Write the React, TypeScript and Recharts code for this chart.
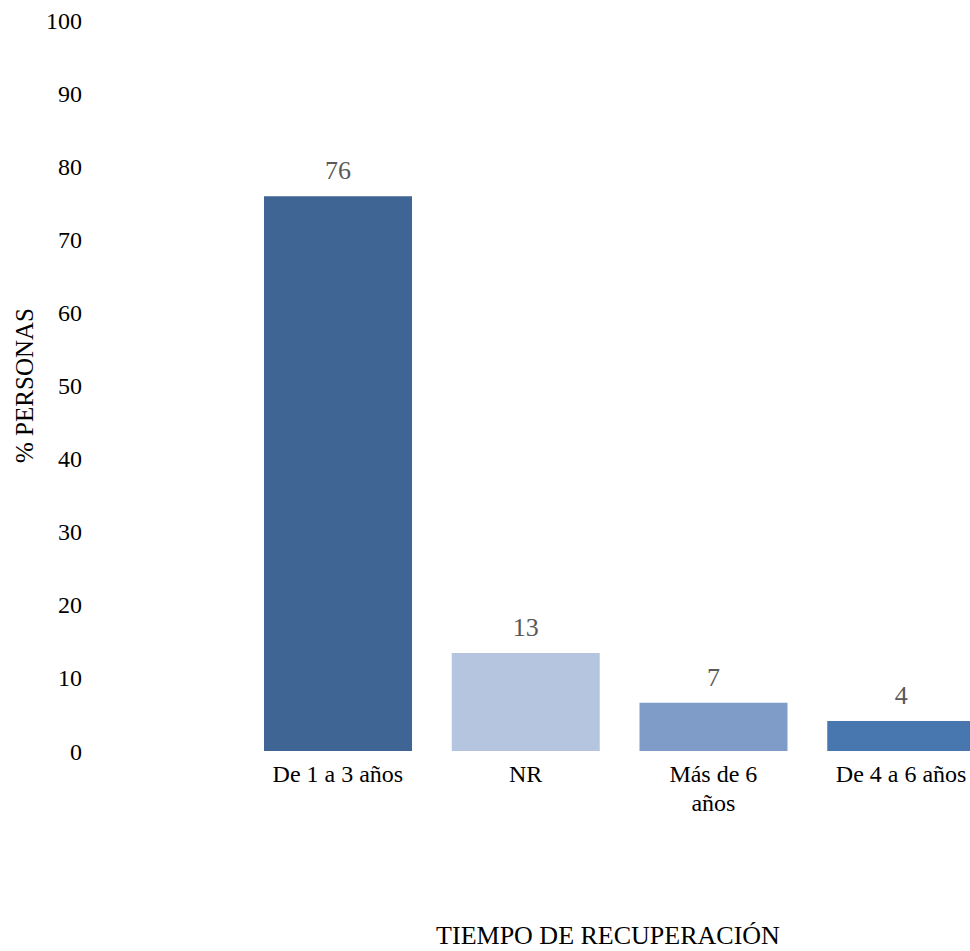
import React from "react";
import { BarChart, Bar, XAxis, YAxis, Cell, LabelList } from "recharts";

const categories = ["De 1 a 3 años", "NR", "Más de 6 años", "De 4 a 6 años"];
const tickLines = [["De 1 a 3 años"], ["NR"], ["Más de 6", "años"], ["De 4 a 6 años"]];
const values = [75.9, 13.4, 6.6, 4.1];
const barColors = ["#3e6594", "#b5c4df", "#7f9bc7", "#4877b0"];
const yTicks = [0, 10, 20, 30, 40, 50, 60, 70, 80, 90, 100];
const yTitle = "% PERSONAS";
const xTitle = "TIEMPO DE RECUPERACIÓN";

const data = categories.map((name, i) => ({ name, value: values[i] }));

const FONT = '"Liberation Serif", "DejaVu Serif", "Times New Roman", Times, serif';

const CategoryTick = (props: any) => {
  const { x, y, payload } = props;
  const lines = tickLines[categories.indexOf(payload.value)] || [payload.value];
  return (
    <text x={x} y={y} textAnchor="middle" fill="#000" fontSize={24} fontFamily={FONT}>
      {lines.map((line, i) => (
        <tspan key={i} x={x} dy={i === 0 ? "0.71em" : "1.2em"}>
          {line}
        </tspan>
      ))}
    </text>
  );
};

export default function App() {
  return (
    <div style={{ width: 970, height: 951, overflow: "hidden", background: "#fff" }}>
      <style>{`body{margin:0}`}</style>
      <BarChart
        width={995}
        height={951}
        data={data}
        margin={{ top: 20, right: 0, bottom: 0, left: 0 }}
      >
        <YAxis
          width={90}
          domain={[0, 100]}
          ticks={yTicks}
          axisLine={false}
          tickLine={false}
          tickSize={0}
          tickMargin={8}
          interval={0}
          tick={{ fontSize: 24, fontFamily: FONT, fill: "#000" }}
          label={({ viewBox }: any) => (
            <text
              x={viewBox.x + 33}
              y={viewBox.y + viewBox.height / 2}
              transform={`rotate(-90, ${viewBox.x + 33}, ${viewBox.y + viewBox.height / 2})`}
              textAnchor="middle"
              fontSize={25}
              fontFamily={FONT}
              fill="#000"
            >
              {yTitle}
            </text>
          )}
        />
        <XAxis
          dataKey="name"
          height={200}
          padding={{ left: 154, right: 0 }}
          axisLine={false}
          tickLine={false}
          tickSize={0}
          tickMargin={14}
          interval={0}
          tick={<CategoryTick />}
          label={({ viewBox }: any) => (
            <text
              x={608}
              y={viewBox.y + 193}
              textAnchor="middle"
              fontSize={26}
              fontFamily={FONT}
              fill="#000"
            >
              {xTitle}
            </text>
          )}
        />
        <Bar dataKey="value" barSize={148} isAnimationActive={false}>
          {data.map((d, i) => (
            <Cell key={d.name} fill={barColors[i]} />
          ))}
          <LabelList
            dataKey="value"
            position="top"
            offset={17}
            formatter={(v: any) => Math.round(Number(v))}
            style={{ fontSize: 26, fontFamily: FONT, fill: "#595959" }}
          />
        </Bar>
      </BarChart>
    </div>
  );
}
